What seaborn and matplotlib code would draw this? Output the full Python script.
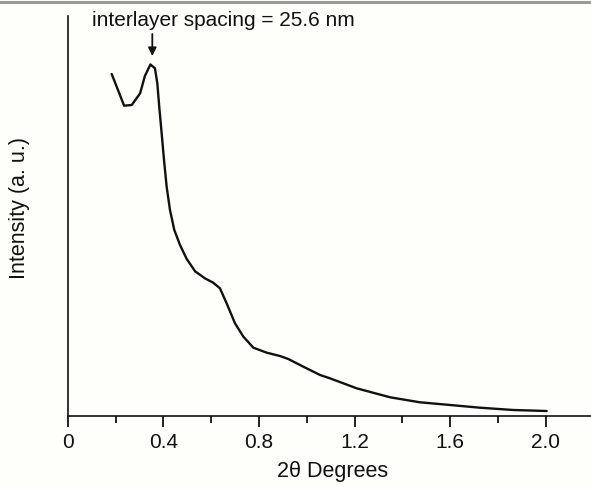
import numpy as np
import pandas as pd
import matplotlib
matplotlib.use("Agg")
import matplotlib.pyplot as plt
from matplotlib.lines import Line2D
import seaborn as sns

two_theta = [0.184, 0.205, 0.236, 0.268, 0.303, 0.323, 0.346, 0.365, 0.375, 0.383,
             0.393, 0.403, 0.414, 0.428, 0.446, 0.470, 0.498, 0.533, 0.574, 0.609,
             0.637, 0.665, 0.700, 0.735, 0.777, 0.833, 0.888, 0.923, 0.986, 1.056,
             1.097, 1.209, 1.349, 1.474, 1.600, 1.725, 1.864, 2.004]
intensity = [342, 329.3, 310.3, 311, 322.7, 340, 351.5, 347.7, 332.7, 309.3,
             283, 256, 229.3, 206, 186, 171, 157, 144.7, 137.7, 133.3,
             127.7, 112.7, 92.7, 79.3, 68.3, 63.3, 60, 57, 49.3, 41,
             37.7, 27.7, 18.7, 13.7, 11, 8.3, 6, 5]
xticks = [0, 0.4, 0.8, 1.2, 1.6, 2.0]
xtick_labels = ["0", "0.4", "0.8", "1.2", "1.6", "2.0"]
minor_ticks = [0.2, 0.6, 1.0, 1.4, 1.8]

df = pd.DataFrame({"x": two_theta, "y": intensity})

sns.set_style("ticks")
plt.rcParams["font.family"] = ["Liberation Sans", "DejaVu Sans"]

bg = "#fefefb"
fig = plt.figure(figsize=(5.91, 4.87), dpi=100, facecolor=bg)
ax = fig.add_axes([67.7 / 591, 1 - 416 / 487, 1 - 67.7 / 591, (416 - 16) / 487])
ax.set_facecolor(bg)

sns.lineplot(data=df, x="x", y="y", ax=ax, color="#111111", linewidth=1.7)

ax.set_xlim(0, (591 - 67.7) / 239)
ax.set_ylim(0, 400)
ax.set_xticks(xticks)
ax.set_xticklabels(xtick_labels)
ax.set_xticks(minor_ticks, minor=True)
ax.set_yticks([])
for s in ["top", "right"]:
    ax.spines[s].set_visible(False)
for s in ["left", "bottom"]:
    ax.spines[s].set_color("#111111")
    ax.spines[s].set_linewidth(1.2)
ax.tick_params(axis="x", which="major", length=8, width=1.3, color="#111111",
               labelsize=15, pad=4, labelcolor="#111111")
ax.tick_params(axis="x", which="minor", length=5, width=1.3, color="#111111")

ax.set_xlabel("2θ Degrees", fontsize=15.5, color="#111111")
ax.xaxis.set_label_coords(0.507, -0.112)
ax.set_ylabel("Intensity (a. u.)", fontsize=15.5, color="#111111")
ax.yaxis.set_label_coords(-0.072, 0.52)

ax.annotate("interlayer spacing = 25.6 nm", xy=(0.354, 359), xytext=(0.1, 396),
            textcoords="data", fontsize=15, color="#111111", ha="left", va="center",
            annotation_clip=False)
ax.annotate("", xy=(0.354, 360), xytext=(0.354, 382),
            arrowprops=dict(arrowstyle="-|>", color="#111111", lw=1.3,
                            mutation_scale=12, shrinkA=0, shrinkB=0),
            annotation_clip=False)

fig.add_artist(Line2D([0, 1], [1 - 1.5 / 487, 1 - 1.5 / 487], transform=fig.transFigure,
                      color="#999999", linewidth=2.2))

fig.savefig("out.png", dpi=100, facecolor=bg)
